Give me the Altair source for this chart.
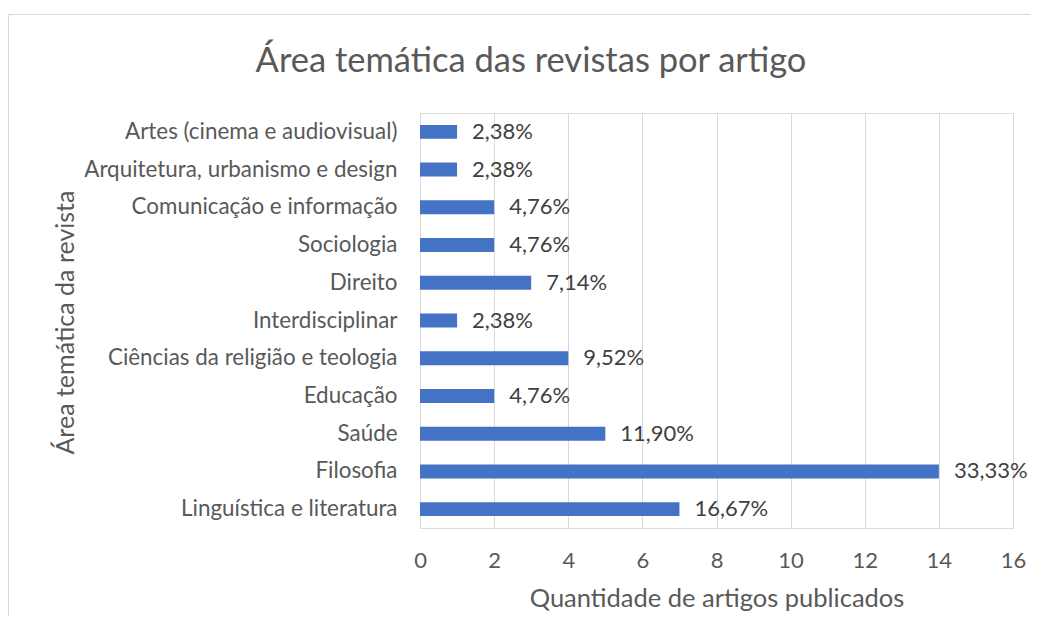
import altair as alt
import pandas as pd

categories = [
    "Artes (cinema e audiovisual)",
    "Arquitetura, urbanismo e design",
    "Comunicação e informação",
    "Sociologia",
    "Direito",
    "Interdisciplinar",
    "Ciências da religião e teologia",
    "Educação",
    "Saúde",
    "Filosofia",
    "Linguística e literatura",
]
counts = [1, 1, 2, 2, 3, 1, 4, 2, 5, 14, 7]
pct_labels = ["2,38%", "2,38%", "4,76%", "4,76%", "7,14%", "2,38%",
              "9,52%", "4,76%", "11,90%", "33,33%", "16,67%"]
x_ticks = [0, 2, 4, 6, 8, 10, 12, 14, 16]
chart_title = "Área temática das revistas por artigo"

df = pd.DataFrame({"area": categories, "n": counts, "pct": pct_labels})

FONT = "Lato"
AXIS_GRAY = "#595959"
LABEL_GRAY = "#404040"
BAR_BLUE = "#4472C4"
GRID = "#D9D9D9"

x_enc = alt.X(
    "n:Q",
    scale=alt.Scale(domain=[0, 16], nice=False),
    axis=alt.Axis(
        values=x_ticks,
        grid=True,
        gridColor=GRID,
        gridWidth=1,
        domain=False,
        ticks=False,
        labelFlush=False,
        labelPadding=39,
        labelBaseline="alphabetic",
        labelFontSize=22,
        labelFont=FONT,
        labelColor=AXIS_GRAY,
        title="Quantidade de artigos publicados",
        titleFont=FONT,
        titleFontSize=25.5,
        titleFontWeight="normal",
        titleColor=AXIS_GRAY,
        titleY=78,
        titleBaseline="alphabetic",
    ),
)

y_enc = alt.Y(
    "area:N",
    sort=categories,
    scale=alt.Scale(paddingInner=0.63, paddingOuter=0.315),
    axis=alt.Axis(
        domain=False,
        ticks=False,
        grid=False,
        labelPadding=23,
        labelFontSize=22.4,
        labelFont=FONT,
        labelColor=AXIS_GRAY,
        labelLimit=400,
        title="Área temática da revista",
        titleFont=FONT,
        titleFontSize=25,
        titleFontWeight="normal",
        titleColor=AXIS_GRAY,
        titleX=-347,
        titleY=209,
        titleAngle=270,
        titleAlign="center",
        titleBaseline="alphabetic",
    ),
)

bars = alt.Chart(df).mark_bar(color=BAR_BLUE).encode(x=x_enc, y=y_enc)

labels = alt.Chart(df).mark_text(
    align="left", baseline="middle", dx=15, fontSize=22, font=FONT, color=LABEL_GRAY
).encode(x="n:Q", y=alt.Y("area:N", sort=categories), text="pct:N")

one = pd.DataFrame({"t": [chart_title]})

border = alt.Chart(one).mark_rect(
    fillOpacity=0, stroke=GRID, strokeWidth=1
).encode(
    x=alt.value(-411.5), x2=alt.value(700), y=alt.value(-98.5), y2=alt.value(600)
)

title = alt.Chart(one).mark_text(
    align="center", baseline="alphabetic", fontSize=34.5, font=FONT, color=AXIS_GRAY
).encode(x=alt.value(111), y=alt.value(-41), text="t:N")

chart = alt.layer(border, bars, labels, title).properties(
    width=593,
    height=415,
    autosize=alt.AutoSizeParams(type="none"),
    padding={"left": 412, "top": 105, "right": 17, "bottom": 88},
).configure_view(stroke=None).configure(background="white")

chart.save("out.html", embed_options={"renderer": "svg", "actions": False})
